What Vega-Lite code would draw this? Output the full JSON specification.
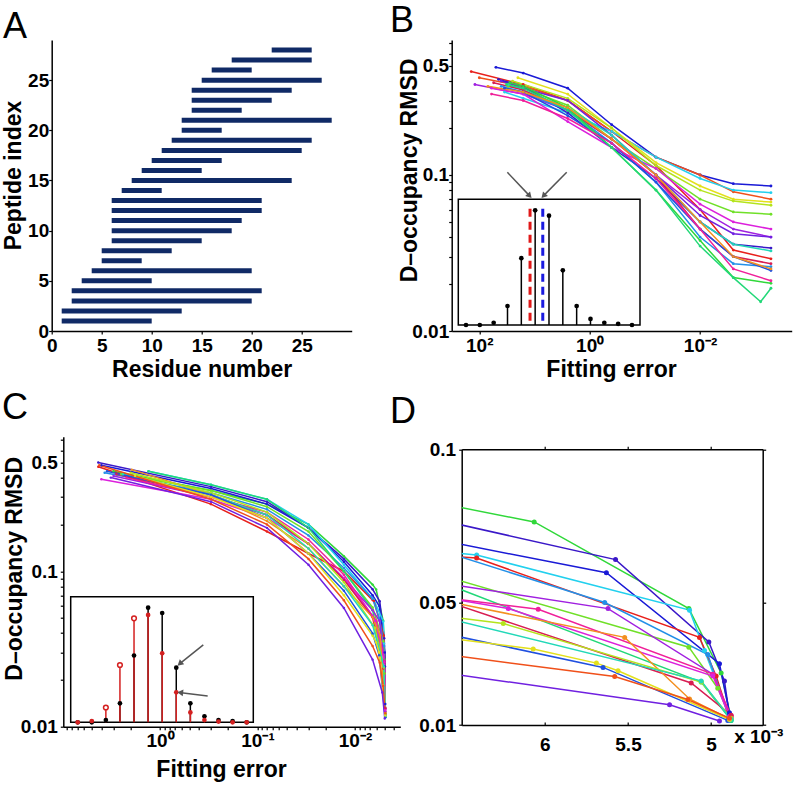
{
"$schema":"https://vega.github.io/schema/vega-lite/v6.json",
"autosize":{"type":"none"},
"padding":{"left":51.7,"top":40,"right":744.3,"bottom":746},
"background":"white",
"config":{
 "font":"Liberation Sans",
 "view":{"stroke":null},
 "axis":{"grid":false,"domainColor":"black","domainWidth":1.5,"tickColor":"black","tickWidth":1.2,"tickSize":3,"labelPadding":1,"labelFont":"Liberation Sans","labelFontWeight":"bold","labelFontSize":19,"labelColor":"black","labelFlush":false,"labelOverlap":false,"titleFont":"Liberation Sans","titleFontWeight":"bold","titleFontSize":23,"titleColor":"black"},
 "title":{"font":"Liberation Sans","fontSize":36,"fontWeight":"normal","color":"black","anchor":"start","frame":"group","offset":0}
},
"datasets":{
 "peptides":[
  {"peptide":1,"start":1,"end":10},{"peptide":2,"start":1,"end":13},{"peptide":3,"start":2,"end":20},{"peptide":4,"start":2,"end":21},
  {"peptide":5,"start":3,"end":10},{"peptide":6,"start":4,"end":20},{"peptide":7,"start":5,"end":9},{"peptide":8,"start":5,"end":12},
  {"peptide":9,"start":6,"end":15},{"peptide":10,"start":6,"end":18},{"peptide":11,"start":6,"end":19},{"peptide":12,"start":6,"end":21},
  {"peptide":13,"start":6,"end":21},{"peptide":14,"start":7,"end":11},{"peptide":15,"start":8,"end":24},{"peptide":16,"start":9,"end":15},
  {"peptide":17,"start":10,"end":17},{"peptide":18,"start":11,"end":25},{"peptide":19,"start":12,"end":26},{"peptide":20,"start":13,"end":17},
  {"peptide":21,"start":13,"end":28},{"peptide":22,"start":14,"end":19},{"peptide":23,"start":14,"end":22},{"peptide":24,"start":14,"end":24},
  {"peptide":25,"start":15,"end":27},{"peptide":26,"start":16,"end":20},{"peptide":27,"start":18,"end":26},{"peptide":28,"start":22,"end":26}
 ],
 "bcurves":[
  {"run":13,"error":50,"rmsd":0.49},{"run":13,"error":16,"rmsd":0.45},{"run":13,"error":2.5,"rmsd":0.36},{"run":13,"error":0.4,"rmsd":0.21},{"run":13,"error":0.063,"rmsd":0.13},{"run":13,"error":0.01,"rmsd":0.1},{"run":13,"error":0.0025,"rmsd":0.088},{"run":13,"error":0.00052,"rmsd":0.085},
  {"run":1,"error":140,"rmsd":0.46},{"run":1,"error":16,"rmsd":0.38},{"run":1,"error":2.5,"rmsd":0.3},{"run":1,"error":0.4,"rmsd":0.19},{"run":1,"error":0.063,"rmsd":0.115},{"run":1,"error":0.01,"rmsd":0.06},{"run":1,"error":0.0025,"rmsd":0.033},{"run":1,"error":0.00052,"rmsd":0.029},
  {"run":2,"error":100,"rmsd":0.42},{"run":2,"error":16,"rmsd":0.37},{"run":2,"error":2.5,"rmsd":0.3},{"run":2,"error":0.4,"rmsd":0.19},{"run":2,"error":0.063,"rmsd":0.13},{"run":2,"error":0.01,"rmsd":0.1},{"run":2,"error":0.0025,"rmsd":0.078},{"run":2,"error":0.00052,"rmsd":0.07},
  {"run":16,"error":120,"rmsd":0.38},{"run":16,"error":16,"rmsd":0.33},{"run":16,"error":2.5,"rmsd":0.26},{"run":16,"error":0.4,"rmsd":0.17},{"run":16,"error":0.063,"rmsd":0.1},{"run":16,"error":0.01,"rmsd":0.06},{"run":16,"error":0.0025,"rmsd":0.045},{"run":16,"error":0.00052,"rmsd":0.04},
  {"run":10,"error":35,"rmsd":0.34},{"run":10,"error":16,"rmsd":0.31},{"run":10,"error":2.5,"rmsd":0.25},{"run":10,"error":0.4,"rmsd":0.19},{"run":10,"error":0.063,"rmsd":0.13},{"run":10,"error":0.01,"rmsd":0.095},{"run":10,"error":0.0025,"rmsd":0.08},{"run":10,"error":0.00052,"rmsd":0.077},
  {"run":4,"error":20,"rmsd":0.42},{"run":4,"error":2.5,"rmsd":0.33},{"run":4,"error":0.4,"rmsd":0.2},{"run":4,"error":0.063,"rmsd":0.12},{"run":4,"error":0.01,"rmsd":0.085},{"run":4,"error":0.0025,"rmsd":0.07},{"run":4,"error":0.00052,"rmsd":0.067},
  {"run":5,"error":25,"rmsd":0.4},{"run":5,"error":2.5,"rmsd":0.31},{"run":5,"error":0.4,"rmsd":0.2},{"run":5,"error":0.063,"rmsd":0.115},{"run":5,"error":0.01,"rmsd":0.08},{"run":5,"error":0.0025,"rmsd":0.068},{"run":5,"error":0.00052,"rmsd":0.064},
  {"run":6,"error":30,"rmsd":0.37},{"run":6,"error":16,"rmsd":0.36},{"run":6,"error":2.5,"rmsd":0.28},{"run":6,"error":0.4,"rmsd":0.17},{"run":6,"error":0.063,"rmsd":0.11},{"run":6,"error":0.01,"rmsd":0.07},{"run":6,"error":0.0025,"rmsd":0.058},{"run":6,"error":0.00052,"rmsd":0.056},
  {"run":17,"error":60,"rmsd":0.36},{"run":17,"error":16,"rmsd":0.33},{"run":17,"error":2.5,"rmsd":0.22},{"run":17,"error":0.4,"rmsd":0.15},{"run":17,"error":0.063,"rmsd":0.11},{"run":17,"error":0.01,"rmsd":0.065},{"run":17,"error":0.0025,"rmsd":0.05},{"run":17,"error":0.00052,"rmsd":0.045},
  {"run":15,"error":40,"rmsd":0.4},{"run":15,"error":16,"rmsd":0.36},{"run":15,"error":2.5,"rmsd":0.3},{"run":15,"error":0.4,"rmsd":0.18},{"run":15,"error":0.063,"rmsd":0.1},{"run":15,"error":0.01,"rmsd":0.055},{"run":15,"error":0.0025,"rmsd":0.042},{"run":15,"error":0.00052,"rmsd":0.04},
  {"run":14,"error":45,"rmsd":0.41},{"run":14,"error":16,"rmsd":0.37},{"run":14,"error":2.5,"rmsd":0.25},{"run":14,"error":0.4,"rmsd":0.15},{"run":14,"error":0.063,"rmsd":0.095},{"run":14,"error":0.01,"rmsd":0.05},{"run":14,"error":0.0025,"rmsd":0.036},{"run":14,"error":0.00052,"rmsd":0.034},
  {"run":9,"error":30,"rmsd":0.38},{"run":9,"error":16,"rmsd":0.35},{"run":9,"error":2.5,"rmsd":0.27},{"run":9,"error":0.4,"rmsd":0.18},{"run":9,"error":0.063,"rmsd":0.1},{"run":9,"error":0.01,"rmsd":0.05},{"run":9,"error":0.0025,"rmsd":0.036},{"run":9,"error":0.00052,"rmsd":0.0326},
  {"run":19,"error":55,"rmsd":0.39},{"run":19,"error":16,"rmsd":0.35},{"run":19,"error":2.5,"rmsd":0.26},{"run":19,"error":0.4,"rmsd":0.17},{"run":19,"error":0.063,"rmsd":0.1},{"run":19,"error":0.01,"rmsd":0.045},{"run":19,"error":0.0025,"rmsd":0.03},{"run":19,"error":0.00052,"rmsd":0.027},
  {"run":11,"error":40,"rmsd":0.37},{"run":11,"error":16,"rmsd":0.34},{"run":11,"error":2.5,"rmsd":0.26},{"run":11,"error":0.4,"rmsd":0.16},{"run":11,"error":0.063,"rmsd":0.09},{"run":11,"error":0.01,"rmsd":0.04},{"run":11,"error":0.0025,"rmsd":0.027},{"run":11,"error":0.00052,"rmsd":0.0258},
  {"run":12,"error":35,"rmsd":0.36},{"run":12,"error":16,"rmsd":0.34},{"run":12,"error":2.5,"rmsd":0.24},{"run":12,"error":0.4,"rmsd":0.16},{"run":12,"error":0.063,"rmsd":0.09},{"run":12,"error":0.01,"rmsd":0.045},{"run":12,"error":0.0025,"rmsd":0.03},{"run":12,"error":0.00052,"rmsd":0.0244},
  {"run":7,"error":28,"rmsd":0.39},{"run":7,"error":16,"rmsd":0.37},{"run":7,"error":2.5,"rmsd":0.27},{"run":7,"error":0.4,"rmsd":0.15},{"run":7,"error":0.063,"rmsd":0.08},{"run":7,"error":0.01,"rmsd":0.038},{"run":7,"error":0.0025,"rmsd":0.022},{"run":7,"error":0.00052,"rmsd":0.0202},
  {"run":8,"error":32,"rmsd":0.38},{"run":8,"error":16,"rmsd":0.36},{"run":8,"error":2.5,"rmsd":0.26},{"run":8,"error":0.4,"rmsd":0.15},{"run":8,"error":0.063,"rmsd":0.08},{"run":8,"error":0.01,"rmsd":0.035},{"run":8,"error":0.0025,"rmsd":0.022},{"run":8,"error":0.0008,"rmsd":0.0154},{"run":8,"error":0.00052,"rmsd":0.0188},
  {"run":18,"error":60,"rmsd":0.33},{"run":18,"error":16,"rmsd":0.3},{"run":18,"error":2.5,"rmsd":0.23},{"run":18,"error":0.4,"rmsd":0.16},{"run":18,"error":0.063,"rmsd":0.095},{"run":18,"error":0.01,"rmsd":0.045},{"run":18,"error":0.0025,"rmsd":0.025},{"run":18,"error":0.00052,"rmsd":0.021},
  {"run":3,"error":70,"rmsd":0.37},{"run":3,"error":16,"rmsd":0.34},{"run":3,"error":2.5,"rmsd":0.27},{"run":3,"error":0.4,"rmsd":0.17},{"run":3,"error":0.063,"rmsd":0.1},{"run":3,"error":0.01,"rmsd":0.05},{"run":3,"error":0.0025,"rmsd":0.03},{"run":3,"error":0.00052,"rmsd":0.025}
 ],
 "ccurves":[
  {"run":7,"error":3.0,"rmsd":0.44},{"run":7,"error":0.3,"rmsd":0.33},{"run":7,"error":0.08,"rmsd":0.27},{"run":7,"error":0.03,"rmsd":0.2},{"run":7,"error":0.013,"rmsd":0.125},{"run":7,"error":0.0066,"rmsd":0.082},{"run":7,"error":0.006064,"rmsd":0.0763},{"run":7,"error":0.005134,"rmsd":0.048},{"run":7,"error":0.00494,"rmsd":0.027},{"run":7,"error":0.00488,"rmsd":0.012},
  {"run":14,"error":4.3,"rmsd":0.5},{"run":14,"error":0.3,"rmsd":0.35},{"run":14,"error":0.08,"rmsd":0.28},{"run":14,"error":0.03,"rmsd":0.19},{"run":14,"error":0.013,"rmsd":0.12},{"run":14,"error":0.0066,"rmsd":0.0765},{"run":14,"error":0.005575,"rmsd":0.064},{"run":14,"error":0.005014,"rmsd":0.0371},{"run":14,"error":0.00492,"rmsd":0.0244},{"run":14,"error":0.00489,"rmsd":0.0131},
  {"run":13,"error":4.0,"rmsd":0.48},{"run":13,"error":0.3,"rmsd":0.34},{"run":13,"error":0.08,"rmsd":0.27},{"run":13,"error":0.03,"rmsd":0.19},{"run":13,"error":0.013,"rmsd":0.115},{"run":13,"error":0.0066,"rmsd":0.07},{"run":13,"error":0.00563,"rmsd":0.0597},{"run":13,"error":0.00495,"rmsd":0.03},{"run":13,"error":0.00489,"rmsd":0.014},
  {"run":10,"error":1.3,"rmsd":0.44},{"run":10,"error":0.3,"rmsd":0.36},{"run":10,"error":0.08,"rmsd":0.29},{"run":10,"error":0.03,"rmsd":0.2},{"run":10,"error":0.013,"rmsd":0.11},{"run":10,"error":0.0066,"rmsd":0.0665},{"run":10,"error":0.00641,"rmsd":0.0655},{"run":10,"error":0.00513,"rmsd":0.0475},{"run":10,"error":0.00504,"rmsd":0.0343},{"run":10,"error":0.00488,"rmsd":0.0115},
  {"run":1,"error":4.3,"rmsd":0.47},{"run":1,"error":0.3,"rmsd":0.27},{"run":1,"error":0.08,"rmsd":0.18},{"run":1,"error":0.03,"rmsd":0.13},{"run":1,"error":0.013,"rmsd":0.1},{"run":1,"error":0.0066,"rmsd":0.0652},{"run":1,"error":0.00641,"rmsd":0.0645},{"run":1,"error":0.00507,"rmsd":0.0386},{"run":1,"error":0.00497,"rmsd":0.026},{"run":1,"error":0.00489,"rmsd":0.0125},
  {"run":11,"error":3.7,"rmsd":0.43},{"run":11,"error":0.3,"rmsd":0.32},{"run":11,"error":0.08,"rmsd":0.25},{"run":11,"error":0.03,"rmsd":0.17},{"run":11,"error":0.013,"rmsd":0.105},{"run":11,"error":0.0066,"rmsd":0.0665},{"run":11,"error":0.00564,"rmsd":0.05},{"run":11,"error":0.00502,"rmsd":0.033},{"run":11,"error":0.00489,"rmsd":0.012},
  {"run":6,"error":2.5,"rmsd":0.42},{"run":6,"error":0.3,"rmsd":0.33},{"run":6,"error":0.08,"rmsd":0.26},{"run":6,"error":0.03,"rmsd":0.18},{"run":6,"error":0.013,"rmsd":0.1},{"run":6,"error":0.0066,"rmsd":0.0585},{"run":6,"error":0.005134,"rmsd":0.0354},{"run":6,"error":0.00496,"rmsd":0.022},{"run":6,"error":0.00488,"rmsd":0.0118},
  {"run":8,"error":1.32,"rmsd":0.44},{"run":8,"error":0.3,"rmsd":0.36},{"run":8,"error":0.08,"rmsd":0.29},{"run":8,"error":0.03,"rmsd":0.19},{"run":8,"error":0.013,"rmsd":0.1},{"run":8,"error":0.0066,"rmsd":0.0562},{"run":8,"error":0.00506,"rmsd":0.024},{"run":8,"error":0.00488,"rmsd":0.0115},
  {"run":16,"error":3.0,"rmsd":0.41},{"run":16,"error":0.3,"rmsd":0.3},{"run":16,"error":0.08,"rmsd":0.23},{"run":16,"error":0.03,"rmsd":0.15},{"run":16,"error":0.013,"rmsd":0.09},{"run":16,"error":0.0066,"rmsd":0.0562},{"run":16,"error":0.00562,"rmsd":0.048},{"run":16,"error":0.00499,"rmsd":0.0266},{"run":16,"error":0.00488,"rmsd":0.0125},
  {"run":18,"error":2.2,"rmsd":0.4},{"run":18,"error":0.3,"rmsd":0.3},{"run":18,"error":0.08,"rmsd":0.24},{"run":18,"error":0.03,"rmsd":0.16},{"run":18,"error":0.013,"rmsd":0.095},{"run":18,"error":0.0066,"rmsd":0.0515},{"run":18,"error":0.00604,"rmsd":0.0478},{"run":18,"error":0.00499,"rmsd":0.0266},{"run":18,"error":0.00488,"rmsd":0.013},
  {"run":17,"error":4.0,"rmsd":0.39},{"run":17,"error":0.3,"rmsd":0.29},{"run":17,"error":0.08,"rmsd":0.22},{"run":17,"error":0.03,"rmsd":0.15},{"run":17,"error":0.013,"rmsd":0.09},{"run":17,"error":0.0066,"rmsd":0.0515},{"run":17,"error":0.00622,"rmsd":0.048},{"run":17,"error":0.00499,"rmsd":0.026},{"run":17,"error":0.00489,"rmsd":0.0128},
  {"run":19,"error":2.8,"rmsd":0.42},{"run":19,"error":0.3,"rmsd":0.31},{"run":19,"error":0.08,"rmsd":0.23},{"run":19,"error":0.03,"rmsd":0.15},{"run":19,"error":0.013,"rmsd":0.088},{"run":19,"error":0.0066,"rmsd":0.0505},{"run":19,"error":0.00512,"rmsd":0.0237},{"run":19,"error":0.00488,"rmsd":0.0132},
  {"run":3,"error":1.95,"rmsd":0.45},{"run":3,"error":0.3,"rmsd":0.31},{"run":3,"error":0.08,"rmsd":0.21},{"run":3,"error":0.03,"rmsd":0.14},{"run":3,"error":0.013,"rmsd":0.08},{"run":3,"error":0.0066,"rmsd":0.0505},{"run":3,"error":0.00552,"rmsd":0.0386},{"run":3,"error":0.00513,"rmsd":0.0185},{"run":3,"error":0.00489,"rmsd":0.012},
  {"run":5,"error":2.0,"rmsd":0.43},{"run":5,"error":0.3,"rmsd":0.32},{"run":5,"error":0.08,"rmsd":0.24},{"run":5,"error":0.03,"rmsd":0.15},{"run":5,"error":0.013,"rmsd":0.085},{"run":5,"error":0.0066,"rmsd":0.0455},{"run":5,"error":0.00625,"rmsd":0.0431},{"run":5,"error":0.00506,"rmsd":0.024},{"run":5,"error":0.00488,"rmsd":0.0122},
  {"run":9,"error":2.4,"rmsd":0.42},{"run":9,"error":0.3,"rmsd":0.31},{"run":9,"error":0.08,"rmsd":0.23},{"run":9,"error":0.03,"rmsd":0.14},{"run":9,"error":0.013,"rmsd":0.08},{"run":9,"error":0.0066,"rmsd":0.045},{"run":9,"error":0.00506,"rmsd":0.0244},{"run":9,"error":0.00488,"rmsd":0.0118},
  {"run":12,"error":3.5,"rmsd":0.44},{"run":12,"error":0.3,"rmsd":0.31},{"run":12,"error":0.08,"rmsd":0.22},{"run":12,"error":0.03,"rmsd":0.13},{"run":12,"error":0.013,"rmsd":0.075},{"run":12,"error":0.0066,"rmsd":0.0398},{"run":12,"error":0.00565,"rmsd":0.0288},{"run":12,"error":0.0049,"rmsd":0.0115},
  {"run":4,"error":1.8,"rmsd":0.41},{"run":4,"error":0.3,"rmsd":0.3},{"run":4,"error":0.08,"rmsd":0.22},{"run":4,"error":0.03,"rmsd":0.13},{"run":4,"error":0.013,"rmsd":0.07},{"run":4,"error":0.0066,"rmsd":0.0385},{"run":4,"error":0.00607,"rmsd":0.0348},{"run":4,"error":0.00569,"rmsd":0.0302},{"run":4,"error":0.00556,"rmsd":0.0277},{"run":4,"error":0.00489,"rmsd":0.0118},
  {"run":2,"error":4.2,"rmsd":0.48},{"run":2,"error":0.3,"rmsd":0.29},{"run":2,"error":0.08,"rmsd":0.2},{"run":2,"error":0.03,"rmsd":0.12},{"run":2,"error":0.013,"rmsd":0.065},{"run":2,"error":0.0066,"rmsd":0.033},{"run":2,"error":0.00558,"rmsd":0.0258},{"run":2,"error":0.00514,"rmsd":0.0183},{"run":2,"error":0.00489,"rmsd":0.0122},
  {"run":15,"error":3.2,"rmsd":0.4},{"run":15,"error":0.3,"rmsd":0.28},{"run":15,"error":0.08,"rmsd":0.19},{"run":15,"error":0.03,"rmsd":0.11},{"run":15,"error":0.013,"rmsd":0.058},{"run":15,"error":0.0066,"rmsd":0.027},{"run":15,"error":0.00525,"rmsd":0.0166},{"run":15,"error":0.00495,"rmsd":0.0113}
 ],
 "hist":[
  {"bin":1,"full":0,"reduced":0},{"bin":2,"full":0,"reduced":0.0034},{"bin":3,"full":0.006,"reduced":0.039},{"bin":4,"full":0.05,"reduced":0.151},
  {"bin":5,"full":0.176,"reduced":0.274},{"bin":6,"full":0.302,"reduced":0.283},{"bin":7,"full":0.288,"reduced":0.182},{"bin":8,"full":0.144,"reduced":0.079},
  {"bin":9,"full":0.05,"reduced":0.026},{"bin":10,"full":0.016,"reduced":0.006},{"bin":11,"full":0.006,"reduced":0.002},{"bin":12,"full":0.003,"reduced":0},{"bin":13,"full":0,"reduced":0}
 ],
 "cutoffs":[{"criterion":"first","bin":5.63,"level":0.306},{"criterion":"second","bin":6.55,"level":0.306}],
 "arrowsB":[{"id":"left","x1":3.99,"y1":0.402,"x2":5.55,"y2":0.342},{"id":"right","x1":8.28,"y1":0.402,"x2":6.65,"y2":0.342}],
 "arrowsC":[{"id":"upper","x1":9.92,"y1":0.204,"x2":8.3,"y2":0.156},{"id":"lower","x1":10.23,"y1":0.069,"x2":8.35,"y2":0.078}]
},
"columns":2,
"spacing":{"row":105.7,"column":100},
"bounds":"flush",
"align":"none",
"concat":[
  {
   "width":310,"height":291,
   "title":{"text":"A","dx":-48.7,"dy":10},
   "data":{"name":"peptides"},
   "mark":{"type":"rule","strokeWidth":5,"color":"#102a66"},
   "encoding":{
    "x":{"field":"start","type":"quantitative","scale":{"domain":[0,30],"range":[0,300],"nice":false},"axis":{"values":[0,5,10,15,20,25],"title":"Residue number","titleX":150,"titleY":45.7,"titleBaseline":"alphabetic","labelPadding":2}},
    "x2":{"field":"end"},
    "y":{"field":"peptide","type":"quantitative","scale":{"domain":[0,29],"nice":false},"axis":{"values":[0,5,10,15,20,25],"title":"Peptide index","titleX":-31,"titleY":135,"titleBaseline":"alphabetic","labelPadding":0}}
   }
  },
  {
   "width":330,"height":291,
   "title":{"text":"B","dx":-71.7,"dy":10},
   "resolve":{"scale":{"x":"independent","y":"independent"}},
   "layer":[
    {"data":{"name":"bcurves"},
     "mark":{"type":"line","strokeWidth":1.5,"point":{"filled":true,"size":8}},
     "encoding":{
      "x":{"field":"error","type":"quantitative","scale":{"type":"log","domain":[316,0.000219],"range":[-10,330],"nice":false},"axis":{"values":[100,1,0.01],"labelExpr":"datum.value > 10 ? '10²' : datum.value > 0.1 ? '10⁰' : '10⁻²'","title":"Fitting error","titleX":149.3,"titleY":45.7,"titleBaseline":"alphabetic","labelPadding":2}},
      "y":{"field":"rmsd","type":"quantitative","scale":{"type":"log","domain":[0.01,0.733],"nice":false},"axis":{"offset":10,"values":[0.01,0.02,0.03,0.04,0.05,0.06,0.07,0.08,0.09,0.1,0.2,0.3,0.4,0.5,0.6,0.7],"labelExpr":"datum.value == 0.01 ? '0.01' : datum.value == 0.1 ? '0.1' : datum.value == 0.5 ? '0.5' : ''","title":"D–occupancy RMSD","titleX":-35,"titleY":130,"titleBaseline":"alphabetic","labelPadding":0}},
      "color":{"field":"run","type":"nominal","legend":null,"scale":{"domain":[1,2,3,4,5,6,7,8,9,10,11,12,13,14,15,16,17,18,19],"range":["#e8201c","#f0501a","#f39020","#e3e01c","#b4e41c","#70e028","#30d83a","#22d878","#22d8b8","#22d0ee","#2390e8","#2050e0","#1a1ad6","#3a18c8","#7020e0","#a020e0","#dc20dc","#f0209a","#d81e52"]}}
     }},
    {"layer":[
     {"data":{"values":[{"frame":"inset"}]},"mark":{"type":"rect","fill":"white","stroke":"black","strokeWidth":1.5},
      "encoding":{"x":{"datum":0.443,"type":"quantitative","scale":{"domain":[0.443,13.58],"range":[-3.4,178.3],"nice":false,"zero":false},"axis":null},"x2":{"datum":13.58},
                  "y":{"datum":0,"type":"quantitative","scale":{"domain":[0,0.331],"range":[285,159.3],"nice":false,"zero":false},"axis":null},"y2":{"datum":0.331}}},
     {"data":{"name":"hist"},"mark":{"type":"rule","color":"black","strokeWidth":1.5},
      "encoding":{"x":{"field":"bin","type":"quantitative","scale":{"domain":[0.443,13.58],"range":[-3.4,178.3],"nice":false,"zero":false},"axis":null},
                  "y":{"field":"full","type":"quantitative","scale":{"domain":[0,0.331],"range":[285,159.3],"nice":false,"zero":false},"axis":null},"y2":{"datum":0}}},
     {"data":{"name":"cutoffs"},"transform":[{"filter":"datum.criterion == 'first'"}],"mark":{"type":"rule","color":"#e01818","strokeWidth":3,"strokeDash":[8,5]},
      "encoding":{"x":{"field":"bin","type":"quantitative","scale":{"domain":[0.443,13.58],"range":[-3.4,178.3],"nice":false,"zero":false},"axis":null},
                  "y":{"field":"level","type":"quantitative","scale":{"domain":[0,0.331],"range":[285,159.3],"nice":false,"zero":false},"axis":null},"y2":{"datum":0}}},
     {"data":{"name":"cutoffs"},"transform":[{"filter":"datum.criterion == 'second'"}],"mark":{"type":"rule","color":"#1a1ae0","strokeWidth":3,"strokeDash":[8,5]},
      "encoding":{"x":{"field":"bin","type":"quantitative","scale":{"domain":[0.443,13.58],"range":[-3.4,178.3],"nice":false,"zero":false},"axis":null},
                  "y":{"field":"level","type":"quantitative","scale":{"domain":[0,0.331],"range":[285,159.3],"nice":false,"zero":false},"axis":null},"y2":{"datum":0}}},
     {"data":{"name":"hist"},"mark":{"type":"point","filled":true,"color":"black","size":22,"opacity":1},
      "encoding":{"x":{"field":"bin","type":"quantitative","scale":{"domain":[0.443,13.58],"range":[-3.4,178.3],"nice":false,"zero":false},"axis":null},
                  "y":{"field":"full","type":"quantitative","scale":{"domain":[0,0.331],"range":[285,159.3],"nice":false,"zero":false},"axis":null}}},
     {"data":{"name":"arrowsB"},"mark":{"type":"rule","color":"#555555","strokeWidth":1.5},
      "encoding":{"x":{"field":"x1","type":"quantitative","scale":{"domain":[0.443,13.58],"range":[-3.4,178.3],"nice":false,"zero":false},"axis":null},"x2":{"field":"x2"},
                  "y":{"field":"y1","type":"quantitative","scale":{"domain":[0,0.331],"range":[285,159.3],"nice":false,"zero":false},"axis":null},"y2":{"field":"y2"}}},
     {"data":{"name":"arrowsB"},"transform":[{"filter":"datum.id == 'left'"}],"mark":{"type":"point","shape":"triangle","filled":true,"color":"#555555","size":45,"opacity":1,"angle":137},
      "encoding":{"x":{"field":"x2","type":"quantitative","scale":{"domain":[0.443,13.58],"range":[-3.4,178.3],"nice":false,"zero":false},"axis":null},
                  "y":{"field":"y2","type":"quantitative","scale":{"domain":[0,0.331],"range":[285,159.3],"nice":false,"zero":false},"axis":null}}},
     {"data":{"name":"arrowsB"},"transform":[{"filter":"datum.id == 'right'"}],"mark":{"type":"point","shape":"triangle","filled":true,"color":"#555555","size":45,"opacity":1,"angle":223},
      "encoding":{"x":{"field":"x2","type":"quantitative","scale":{"domain":[0.443,13.58],"range":[-3.4,178.3],"nice":false,"zero":false},"axis":null},
                  "y":{"field":"y2","type":"quantitative","scale":{"domain":[0,0.331],"range":[285,159.3],"nice":false,"zero":false},"axis":null}}}
    ]}
   ]
  },
  {
   "width":310,"height":290,
   "title":{"text":"C","dx":-49.7,"dy":0},
   "resolve":{"scale":{"x":"independent","y":"independent"}},
   "layer":[
    {"data":{"name":"ccurves"},
     "mark":{"type":"line","strokeWidth":1.5,"point":{"filled":true,"size":6}},
     "encoding":{
      "x":{"field":"error","type":"quantitative","scale":{"type":"log","domain":[9.82,0.00343],"range":[11.6,348.6],"nice":false},"axis":{"values":[9,8,7,6,5,4,3,2,1,0.9,0.8,0.7,0.6,0.5,0.4,0.3,0.2,0.1,0.09,0.08,0.07,0.06,0.05,0.04,0.03,0.02,0.01,0.009,0.008,0.007,0.006,0.005,0.004],"labelExpr":"datum.value == 1 ? '10⁰' : datum.value == 0.1 ? '10⁻¹' : datum.value == 0.01 ? '10⁻²' : ''","title":"Fitting error","titleX":169.3,"titleY":50,"titleBaseline":"alphabetic","labelPadding":2}},
      "y":{"field":"rmsd","type":"quantitative","scale":{"type":"log","domain":[0.01,0.733],"nice":false},"axis":{"offset":-11.6,"values":[0.01,0.02,0.03,0.04,0.05,0.06,0.07,0.08,0.09,0.1,0.2,0.3,0.4,0.5,0.6,0.7],"labelExpr":"datum.value == 0.01 ? '0.01' : datum.value == 0.1 ? '0.1' : datum.value == 0.5 ? '0.5' : ''","title":"D–occupancy RMSD","titleX":-42.3,"titleY":131.6,"titleBaseline":"alphabetic","labelPadding":3}},
      "color":{"field":"run","type":"nominal","legend":null,"scale":{"domain":[1,2,3,4,5,6,7,8,9,10,11,12,13,14,15,16,17,18,19],"range":["#e8201c","#f0501a","#f39020","#e3e01c","#b4e41c","#70e028","#30d83a","#22d878","#22d8b8","#22d0ee","#2390e8","#2050e0","#1a1ad6","#3a18c8","#7020e0","#a020e0","#dc20dc","#f0209a","#d81e52"]}}
     }},
    {"layer":[
     {"data":{"values":[{"frame":"inset"}]},"mark":{"type":"rect","fill":"white","stroke":"black","strokeWidth":1.5},
      "encoding":{"x":{"datum":0.503,"type":"quantitative","scale":{"domain":[0.503,13.47],"range":[19,201.6],"nice":false,"zero":false},"axis":null},"x2":{"datum":13.47},
                  "y":{"datum":0,"type":"quantitative","scale":{"domain":[0,0.331],"range":[285.6,160],"nice":false,"zero":false},"axis":null},"y2":{"datum":0.331}}},
     {"data":{"name":"hist"},"mark":{"type":"rule","color":"black","strokeWidth":1.5},
      "encoding":{"x":{"field":"bin","type":"quantitative","scale":{"domain":[0.503,13.47],"range":[19,201.6],"nice":false,"zero":false},"axis":null},
                  "y":{"field":"full","type":"quantitative","scale":{"domain":[0,0.331],"range":[285.6,160],"nice":false,"zero":false},"axis":null},"y2":{"datum":0}}},
     {"data":{"name":"hist"},"mark":{"type":"rule","color":"#d42020","strokeWidth":1.5},
      "encoding":{"x":{"field":"bin","type":"quantitative","scale":{"domain":[0.503,13.47],"range":[19,201.6],"nice":false,"zero":false},"axis":null},
                  "y":{"field":"reduced","type":"quantitative","scale":{"domain":[0,0.331],"range":[285.6,160],"nice":false,"zero":false},"axis":null},"y2":{"datum":0}}},
     {"data":{"name":"hist"},"mark":{"type":"point","filled":true,"color":"black","size":22,"opacity":1},
      "encoding":{"x":{"field":"bin","type":"quantitative","scale":{"domain":[0.503,13.47],"range":[19,201.6],"nice":false,"zero":false},"axis":null},
                  "y":{"field":"full","type":"quantitative","scale":{"domain":[0,0.331],"range":[285.6,160],"nice":false,"zero":false},"axis":null}}},
     {"data":{"name":"hist"},"transform":[{"filter":"datum.reduced <= datum.full + 0.005"}],"mark":{"type":"point","filled":true,"color":"#d42020","size":22,"opacity":1},
      "encoding":{"x":{"field":"bin","type":"quantitative","scale":{"domain":[0.503,13.47],"range":[19,201.6],"nice":false,"zero":false},"axis":null},
                  "y":{"field":"reduced","type":"quantitative","scale":{"domain":[0,0.331],"range":[285.6,160],"nice":false,"zero":false},"axis":null}}},
     {"data":{"name":"hist"},"transform":[{"filter":"datum.reduced > datum.full + 0.005"}],"mark":{"type":"point","filled":false,"fill":"white","stroke":"#d42020","strokeWidth":1.5,"size":22,"opacity":1},
      "encoding":{"x":{"field":"bin","type":"quantitative","scale":{"domain":[0.503,13.47],"range":[19,201.6],"nice":false,"zero":false},"axis":null},
                  "y":{"field":"reduced","type":"quantitative","scale":{"domain":[0,0.331],"range":[285.6,160],"nice":false,"zero":false},"axis":null}}},
     {"data":{"name":"arrowsC"},"mark":{"type":"rule","color":"#555555","strokeWidth":1.5},
      "encoding":{"x":{"field":"x1","type":"quantitative","scale":{"domain":[0.503,13.47],"range":[19,201.6],"nice":false,"zero":false},"axis":null},"x2":{"field":"x2"},
                  "y":{"field":"y1","type":"quantitative","scale":{"domain":[0,0.331],"range":[285.6,160],"nice":false,"zero":false},"axis":null},"y2":{"field":"y2"}}},
     {"data":{"name":"arrowsC"},"transform":[{"filter":"datum.id == 'upper'"}],"mark":{"type":"point","shape":"triangle","filled":true,"color":"#555555","size":45,"opacity":1,"angle":229},
      "encoding":{"x":{"field":"x2","type":"quantitative","scale":{"domain":[0.503,13.47],"range":[19,201.6],"nice":false,"zero":false},"axis":null},
                  "y":{"field":"y2","type":"quantitative","scale":{"domain":[0,0.331],"range":[285.6,160],"nice":false,"zero":false},"axis":null}}},
     {"data":{"name":"arrowsC"},"transform":[{"filter":"datum.id == 'lower'"}],"mark":{"type":"point","shape":"triangle","filled":true,"color":"#555555","size":45,"opacity":1,"angle":277},
      "encoding":{"x":{"field":"x2","type":"quantitative","scale":{"domain":[0.503,13.47],"range":[19,201.6],"nice":false,"zero":false},"axis":null},
                  "y":{"field":"y2","type":"quantitative","scale":{"domain":[0,0.331],"range":[285.6,160],"nice":false,"zero":false},"axis":null}}}
    ]}
   ]
  },
  {
   "width":301,"height":288.3,
   "title":{"text":"D","dx":-71.7,"dy":-2},
   "resolve":{"axis":{"x":"independent","y":"independent"}},
   "layer":[
    {"data":{"name":"ccurves"},
     "mark":{"type":"line","strokeWidth":1.5,"clip":true},
     "encoding":{
      "x":{"field":"error","type":"quantitative","scale":{"domain":[0.0065,0.00469],"nice":false,"zero":false},"axis":{"orient":"bottom","values":[0.005,0.0055,0.006],"labelExpr":"format(datum.value*1000,'~g')","tickSize":-3,"labelPadding":13,"title":"x 10⁻³","titleX":296.6,"titleY":11.7,"titleBaseline":"middle","titleAlign":"center","titleFontSize":19}},
      "y":{"field":"rmsd","type":"quantitative","scale":{"domain":[0.01,0.1],"range":[288.3,12.6],"nice":false,"zero":false},"axis":{"values":[0.01,0.05,0.1],"format":"~g","title":null,"tickSize":3,"labelPadding":3}},
      "color":{"field":"run","type":"nominal","legend":null,"scale":{"domain":[1,2,3,4,5,6,7,8,9,10,11,12,13,14,15,16,17,18,19],"range":["#e8201c","#f0501a","#f39020","#e3e01c","#b4e41c","#70e028","#30d83a","#22d878","#22d8b8","#22d0ee","#2390e8","#2050e0","#1a1ad6","#3a18c8","#7020e0","#a020e0","#dc20dc","#f0209a","#d81e52"]}}
     }},
    {"data":{"name":"ccurves"},
     "mark":{"type":"point","filled":true,"size":25,"opacity":1,"clip":true},
     "encoding":{
      "x":{"field":"error","type":"quantitative","scale":{"domain":[0.0065,0.00469],"nice":false,"zero":false},"axis":{"orient":"top","offset":-12.6,"values":[0.005,0.0055,0.006],"labels":false,"title":null,"tickSize":3}},
      "y":{"field":"rmsd","type":"quantitative","scale":{"domain":[0.01,0.1],"range":[288.3,12.6],"nice":false,"zero":false},"axis":{"orient":"right","values":[0.01,0.05,0.1],"labels":false,"title":null,"tickSize":3}},
      "color":{"field":"run","type":"nominal","legend":null,"scale":{"domain":[1,2,3,4,5,6,7,8,9,10,11,12,13,14,15,16,17,18,19],"range":["#e8201c","#f0501a","#f39020","#e3e01c","#b4e41c","#70e028","#30d83a","#22d878","#22d8b8","#22d0ee","#2390e8","#2050e0","#1a1ad6","#3a18c8","#7020e0","#a020e0","#dc20dc","#f0209a","#d81e52"]}}
     }}
   ]
  }
]
}
